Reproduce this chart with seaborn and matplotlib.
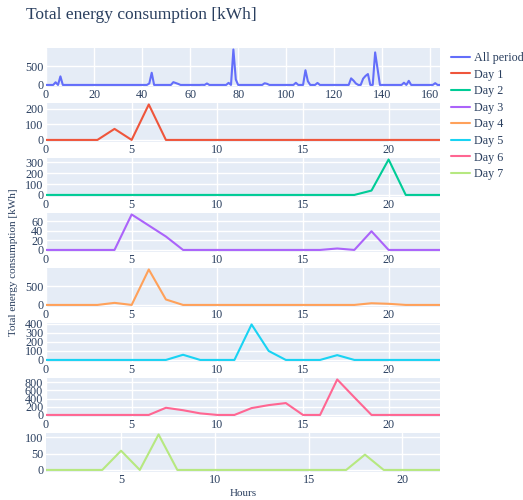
import matplotlib
matplotlib.use("Agg")
import matplotlib.pyplot as plt
import numpy as np
import pandas as pd
import seaborn as sns

# ---------------- data ----------------
day_hours = list(range(24))
day7_hours = list(range(1, 23))

day1 = [0, 0, 0, 0, 71, 0, 228, 0, 0, 0, 0, 0, 0, 0, 0, 0, 0, 0, 0, 0, 0, 0, 0, 0]
day2 = [0, 0, 0, 0, 0, 0, 0, 0, 0, 0, 0, 0, 0, 0, 0, 0, 0, 0, 0, 40, 325, 0, 0, 0]
day3 = [0, 0, 0, 0, 0, 74, 51, 28, 0, 0, 0, 0, 0, 0, 0, 0, 0, 3, 0, 39, 0, 0, 0, 0]
day4 = [0, 0, 0, 0, 55, 0, 945, 145, 0, 0, 0, 0, 0, 0, 0, 0, 0, 0, 0, 45, 30, 0, 0, 0]
day5 = [0, 0, 0, 0, 0, 0, 0, 0, 57, 0, 0, 0, 392, 99, 0, 0, 0, 53, 0, 0, 0, 0, 0, 0]
day6 = [0, 0, 0, 0, 0, 0, 0, 175, 115, 38, 0, 0, 167, 240, 290, 0, 0, 867, 430, 0, 0, 0, 0, 0]
day7 = [0, 0, 0, 0, 59, 0, 109, 0, 0, 0, 0, 0, 0, 0, 0, 0, 0, 47, 0, 0, 0, 0]

# whole period: the seven days one after another (hour index 0..164)
all_period = (day1 + day2 + day3 + day4 + day5 + day6
              + [0] + day7[:20])
all_hours = list(range(len(all_period)))

series_names = ["All period", "Day 1", "Day 2", "Day 3", "Day 4", "Day 5", "Day 6", "Day 7"]
series_x = [all_hours, day_hours, day_hours, day_hours, day_hours, day_hours, day_hours, day7_hours]
series_y = [all_period, day1, day2, day3, day4, day5, day6, day7]

y_ticks = [[0, 500], [0, 100, 200], [0, 100, 200, 300], [0, 20, 40, 60],
           [0, 500], [0, 100, 200, 300, 400], [0, 200, 400, 600, 800], [0, 50, 100]]
x_ticks = [list(range(0, 161, 20))] + [[0, 5, 10, 15, 20]] * 6 + [[5, 10, 15, 20]]

colors = ["#636efa", "#EF553B", "#00cc96", "#ab63fa", "#FFA15A", "#19d3f3", "#FF6692", "#B6E880"]

# ---------------- style ----------------
sns.set_style("darkgrid", {"axes.facecolor": "#E5ECF6", "grid.color": "white"})
plt.rcParams["font.family"] = ["Liberation Serif", "DejaVu Serif"]
text_color = "#2a3f5f"

W, H = 523, 500
fig = plt.figure(figsize=(W / 100, H / 100), dpi=100)
fig.patch.set_facecolor("white")

left_px, width_px = 46, 394
panel_h = 39
first_top = 47.7
step = 55

handles = []
for k in range(8):
    top = first_top + step * k
    ax = fig.add_axes([left_px / W, 1 - (top + panel_h) / H, width_px / W, panel_h / H])
    df = pd.DataFrame({"x": series_x[k], "y": series_y[k]})
    sns.lineplot(data=df, x="x", y="y", ax=ax, color=colors[k], linewidth=1.5, legend=False)
    handles.append(ax.lines[0])
    ax.set_xlim(min(series_x[k]), max(series_x[k]))
    ax.margins(y=0.05)
    ax.set_yticks(y_ticks[k])
    ax.set_xticks(x_ticks[k])
    ax.set_xlabel("")
    ax.set_ylabel("")
    ax.grid(True, color="white", linewidth=1)
    for s in ax.spines.values():
        s.set_visible(False)
    ax.tick_params(axis="both", length=0, labelsize=8.7, labelcolor=text_color, pad=2)

fig.text(26 / W, 1 - 15 / H, "Total energy consumption [kWh]", fontsize=12.5,
         color=text_color, va="center", ha="left")
fig.text(14 / W, 1 - 262 / H, "Total energy consumption [kWh]", fontsize=8,
         color=text_color, va="center", ha="center", rotation=90)
fig.text((left_px + width_px / 2) / W, 1 - 494 / H, "Hours", fontsize=8,
         color=text_color, va="center", ha="center")

fig.legend(handles, series_names, loc="upper left", bbox_to_anchor=(451 / W, 1 - 52 / H),
           frameon=False, fontsize=8.7, handlelength=1.6, handletextpad=0.3,
           labelspacing=0.38, borderpad=0, borderaxespad=0, labelcolor=text_color)

fig.savefig("out.png", dpi=100, facecolor="white")
